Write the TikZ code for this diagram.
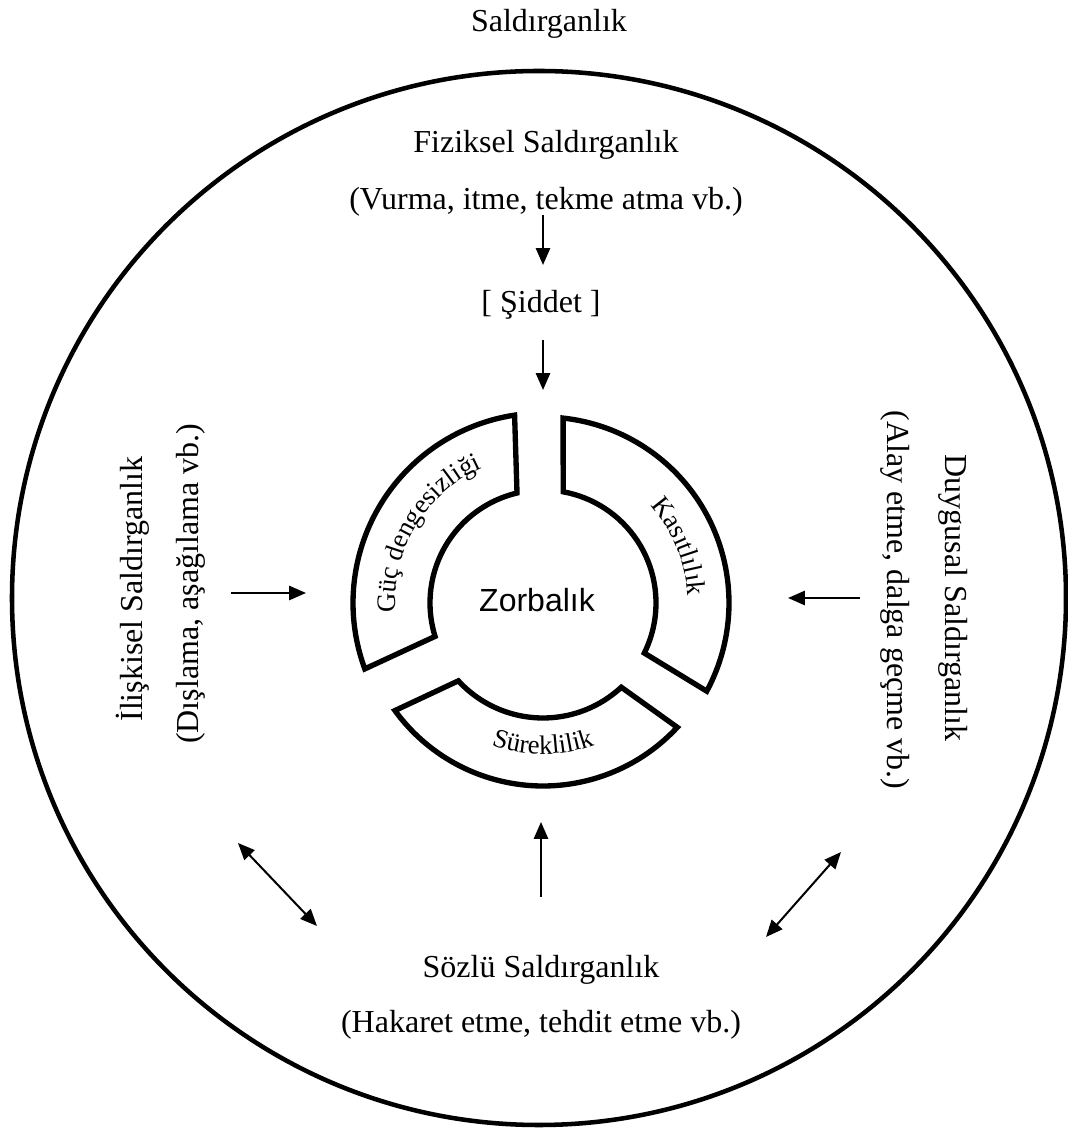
\documentclass[tikz,border=0pt]{standalone}
\usepackage{fontspec}
\setmainfont{Liberation Serif}
\newfontfamily\zorfont{Liberation Sans}
\usetikzlibrary{arrows.meta, decorations.text}

\begin{document}
\begin{tikzpicture}[
    x=0.375pt, y=0.375pt,
    lbl/.style={
        font=\fontsize{12}{14}\selectfont,
        inner sep=0pt,
        anchor=base
    },
    seg/.style={
        draw,
        line width=2pt,
        line join=miter
    },
    arclbl/.style={
        decorate,
        font=\fontsize{9.3}{11}\selectfont,
        decoration={text along path, text align=center, text={#1}}
    },
    arrow/.style={-{Triangle[length=6.3pt,width=5.3pt]}, line width=0.75pt},
    darrow/.style={{Triangle[length=6.3pt,width=5.3pt]}-{Triangle[length=6.3pt,width=5.3pt]}, line width=0.75pt}
]
\useasboundingbox (0,0) rectangle (1068,1131);

% Outer circle
\draw [line width=1.7pt] (539,533) circle[radius=527];

% Title
\node (title) [lbl] at (549,1099) {Saldırganlık};

% Physical
\node (fiz) [lbl] at (546,978) {Fiziksel Saldırganlık};
\node (fizex) [lbl] at (546,921) {(Vurma, itme, tekme atma vb.)};
\node (siddet) [lbl] at (541,818) {[ Şiddet ]};

% Relational
\node (iliski) [lbl, rotate=90] at (142,542) {İlişkisel Saldırganlık};
\node (iliskiex) [lbl, rotate=90] at (198,547) {(Dışlama, aşağılama vb.)};

% Emotional
\node (duygu) [lbl, rotate=-90] at (945,533) {Duygusal Saldırganlık};
\node (duyguex) [lbl, rotate=-90] at (887,531) {(Alay etme, dalga geçme vb.)};

% Verbal
\node (sozlu) [lbl] at (541,153) {Sözlü Saldırganlık};
\node (sozluex) [lbl] at (541,98) {(Hakaret etme, tehdit etme vb.)};

% Centre
\node (zor) [font=\zorfont\fontsize{12}{14}\selectfont, inner sep=0pt] at (537,531) {Zorbalık};

% Ring segments
\begin{scope}[shift={(543,528)}]
\draw [seg] (98.6:190) arc[start angle=98.6, end angle=200.3, radius=190]
    -- (197.2:113) arc[start angle=197.2, end angle=103.3, radius=113] -- cycle;
\draw [seg] (83.8:186) arc[start angle=83.8, end angle=-28.3, radius=186]
    -- (-26.3:113) arc[start angle=-26.3, end angle=79.7, radius=113] -- cycle;
\draw [seg] (216:183) arc[start angle=216, end angle=317.2, radius=183]
    -- (312.9:115) arc[start angle=312.9, end angle=222.6, radius=115] -- cycle;

\path [arclbl={Güç dengesizliği}]
    (185:148) arc[start angle=185, end angle=113, radius=148];
\path [arclbl={Kasıtlılık}]
    (60:145) arc[start angle=60, end angle=-15, radius=145];
\path [arclbl={Süreklilik}]
    (234:151) arc[start angle=234, end angle=306, radius=151];
\end{scope}

% Arrow ends
\coordinate (fizA) at (543,916);
\coordinate (fizB) at (543,866);
\coordinate (sidA) at (543,791);
\coordinate (sidB) at (543,741);
\coordinate (ilA) at (231,538);
\coordinate (ilB) at (306,538);
\coordinate (duA) at (860,533);
\coordinate (duB) at (788,533);
\coordinate (soA) at (541,234);
\coordinate (soB) at (541,309);
\coordinate (llA) at (238,288);
\coordinate (llB) at (317,205);
\coordinate (lrA) at (766,194);
\coordinate (lrB) at (841,279);

% Connections
\draw [arrow] (fizA) -- (fizB);
\draw [arrow] (sidA) -- (sidB);
\draw [arrow] (ilA) -- (ilB);
\draw [arrow] (duA) -- (duB);
\draw [arrow] (soA) -- (soB);
\draw [darrow] (llA) -- (llB);
\draw [darrow] (lrA) -- (lrB);

\end{tikzpicture}
\end{document}
